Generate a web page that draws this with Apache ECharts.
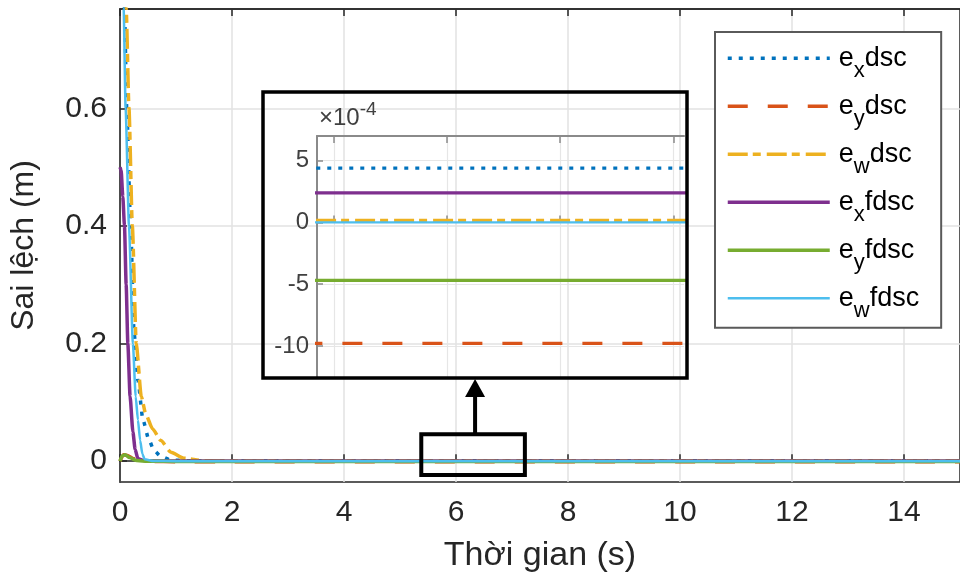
<!DOCTYPE html>
<html><head><meta charset="utf-8">
<script src="https://cdn.jsdelivr.net/npm/echarts@6/dist/echarts.min.js"></script>
<style>html,body{margin:0;padding:0;background:#fff}#c{width:960px;height:578px}</style>
</head><body><div id="c"></div>
<script>
// ---- data ----
const seriesNames = ['exdsc', 'eydsc', 'ewdsc', 'exfdsc', 'eyfdsc', 'ewfdsc'];
const subscripts = ['x', 'y', 'w', 'x', 'y', 'w'];
const suffixes = ['dsc', 'dsc', 'dsc', 'fdsc', 'fdsc', 'fdsc'];
const xTicks = [0, 2, 4, 6, 8, 10, 12, 14];
const yTicks = [0, 0.2, 0.4, 0.6];
const insetXTicks = [5.5, 6, 6.5, 7];
const insetYTicks = [-10e-4, -5e-4, 0, 5e-4];

const exDsc = [[0,1.0],[0.08,0.77],[0.12,0.6],[0.19,0.4],[0.25,0.22],[0.32,0.137],[0.41,0.07],[0.52,0.035],[0.61,0.018],[0.73,0.008],[0.9,0.002],[1.2,0.0006],[2,0.00044],[15,0.00044]];
const eyDsc = [[0,0],[0.06,0.011],[0.12,0.01],[0.25,0.004],[0.4,0.0008],[0.6,-0.0005],[1,-0.00095],[2,-0.00098],[15,-0.00098]];
const ewDsc = [[0,1.0],[0.11,0.77],[0.16,0.6],[0.22,0.4],[0.29,0.2],[0.38,0.11],[0.46,0.08],[0.58,0.055],[0.73,0.035],[0.91,0.015],[1.14,0.005],[1.5,0.0008],[2.2,0.00002],[15,0.00001]];
const exFdsc = [[0,0.5],[0.02,0.495],[0.05,0.45],[0.08,0.4],[0.11,0.3],[0.14,0.2],[0.18,0.11],[0.23,0.05],[0.27,0.02],[0.32,0.004],[0.45,0.0005],[1,0.00024],[15,0.00024]];
const eyFdsc = [[0,0],[0.04,0.009],[0.09,0.011],[0.17,0.006],[0.3,0.001],[0.5,-0.0003],[1,-0.00047],[15,-0.00047]];
const ewFdsc = [[0,1.0],[0.065,0.77],[0.1,0.6],[0.16,0.4],[0.23,0.2],[0.28,0.11],[0.32,0.07],[0.36,0.035],[0.4,0.012],[0.44,0.003],[0.6,0.0002],[1,0],[15,0]];
const allData = [exDsc, eyDsc, ewDsc, exFdsc, eyFdsc, ewFdsc];

// zoomed region shown in the inset (data units of main axes)
const zoomRegion = { x0: 5.38, x1: 7.23, y0: -0.0237, y1: 0.0456 };

// ---- styles ----
const colors = ['#0072BD', '#D95319', '#EDB120', '#7E2F8E', '#77AC30', '#4DBEEE'];
const dashes = [[4, 7], [20, 20], [20, 5, 8, 6], 'solid', 'solid', 'solid'];
const widths = [3.5, 3.5, 3.5, 3.5, 3.5, 2.5];
const FONT = 'Liberation Sans, Arial, sans-serif';
const AX = '#262626';

const chart = echarts.init(document.getElementById('c'));

const series = [];
allData.forEach((d, i) => {
  series.push({
    name: seriesNames[i], type: 'line', data: d, xAxisIndex: 0, yAxisIndex: 0,
    symbol: 'none', smooth: 0.2, smoothMonotone: 'x', clip: true,
    lineStyle: { color: colors[i], width: widths[i], type: dashes[i], cap: 'butt' },
    itemStyle: { color: colors[i] }, z: 3
  });
});
allData.forEach((d, i) => {
  series.push({
    name: seriesNames[i], type: 'line', data: d, xAxisIndex: 2, yAxisIndex: 1,
    symbol: 'none', clip: true,
    lineStyle: { color: colors[i], width: widths[i] - 0.3, type: dashes[i], cap: 'butt' },
    itemStyle: { color: colors[i] }, z: 3
  });
});

const option = {
  animation: false,
  backgroundColor: '#fff',
  textStyle: { fontFamily: FONT },
  grid: [
    { left: 117, top: 9, width: 850, height: 476, show: true, borderColor: AX, borderWidth: 1.5, backgroundColor: 'transparent' },
    { left: 317, top: 136, width: 367, height: 242, show: false }
  ],
  xAxis: [
    { type: 'value', gridIndex: 0, min: 0, max: 15, position: 'bottom',
      name: 'Thời gian (s)', nameLocation: 'middle', nameGap: 57,
      nameTextStyle: { fontSize: 34, color: AX, fontFamily: FONT },
      axisLine: { show: true, lineStyle: { color: AX, width: 1.5 } },
      axisTick: { show: true, inside: true, length: 7, customValues: xTicks, lineStyle: { color: AX, width: 1.5 } },
      axisLabel: { customValues: xTicks, fontSize: 30, color: AX, margin: 16, fontFamily: FONT },
      splitLine: { show: true, lineStyle: { color: '#e2e2e2', width: 1.5 } } },
    { type: 'value', gridIndex: 0, min: 0, max: 15, position: 'top',
      axisLine: { show: true, lineStyle: { color: AX, width: 1.5 } },
      axisTick: { show: true, inside: true, length: 7, customValues: xTicks, lineStyle: { color: AX, width: 1.5 } },
      axisLabel: { show: false }, splitLine: { show: false } },
    { type: 'value', gridIndex: 1, min: 5.425, max: 7.047, position: 'bottom',
      axisLine: { show: false },
      axisTick: { show: true, inside: true, length: 7, customValues: insetXTicks, lineStyle: { color: '#8a8a8a', width: 1.5 } },
      axisLabel: { show: false },
      splitLine: { show: true, lineStyle: { color: '#e6e6e6', width: 1.2 } } },
    { type: 'value', gridIndex: 1, min: 5.425, max: 7.047, position: 'top',
      axisLine: { show: true, lineStyle: { color: '#8a8a8a', width: 2 } },
      axisTick: { show: true, inside: true, length: 7, customValues: insetXTicks, lineStyle: { color: '#8a8a8a', width: 1.5 } },
      axisLabel: { show: false }, splitLine: { show: false } }
  ],
  yAxis: [
    { type: 'value', gridIndex: 0, min: -0.0355, max: 0.769,
      name: 'Sai lệch (m)', nameLocation: 'middle', nameGap: 80,
      nameTextStyle: { fontSize: 32, color: AX, fontFamily: FONT },
      axisLine: { show: true, lineStyle: { color: AX, width: 1.5 } },
      axisTick: { show: true, inside: true, length: 7, customValues: yTicks, lineStyle: { color: AX, width: 1.5 } },
      axisLabel: { customValues: yTicks, fontSize: 30, color: AX, margin: 13, fontFamily: FONT,
                   formatter: v => String(Math.round(v * 10) / 10) },
      splitLine: { show: true, lineStyle: { color: '#e2e2e2', width: 1.5 } } },
    { type: 'value', gridIndex: 1, min: -12.6e-4, max: 7.0e-4,
      axisLine: { show: true, lineStyle: { color: '#8a8a8a', width: 2 } },
      axisTick: { show: true, inside: true, length: 6, customValues: insetYTicks, lineStyle: { color: '#8a8a8a', width: 1.5 } },
      axisLabel: { customValues: insetYTicks, fontSize: 24, color: '#404040', margin: 8, fontFamily: FONT,
                   formatter: v => String(Math.round(v * 1e4)) },
      splitLine: { show: true, lineStyle: { color: '#e6e6e6', width: 1.2 } } }
  ],
  legend: {
    orient: 'vertical', left: 715, top: 32,
    padding: [11, 22, 6, 11],
    itemWidth: 102, itemHeight: 38, itemGap: 9.3,
    backgroundColor: '#fff', borderColor: '#5a5a5a', borderWidth: 2, borderRadius: 0,
    data: seriesNames,
    itemStyle: { opacity: 0 },
    lineStyle: { width: 'inherit', type: 'inherit' },
    formatter: name => {
      const i = seriesNames.indexOf(name);
      return '{f|e}{s|' + subscripts[i] + '}{m|' + suffixes[i] + '}';
    },
    textStyle: {
      fontFamily: FONT, color: '#000',
      rich: {
        f: { fontSize: 27, lineHeight: 38, verticalAlign: 'middle', fontFamily: FONT, color: '#000', padding: [0, 0, 0, 4] },
        m: { fontSize: 27, lineHeight: 38, verticalAlign: 'middle', fontFamily: FONT, color: '#000' },
        s: { fontSize: 22, verticalAlign: 'top', padding: [25, 0, 0, 0], fontFamily: FONT, color: '#000' }
      }
    }
  },
  series: series
};
chart.setOption(option);

// ---- annotations: inset frame, zoom box, arrow ----
const pA = chart.convertToPixel({ xAxisIndex: 0, yAxisIndex: 0 }, [zoomRegion.x0, zoomRegion.y1]);
const pB = chart.convertToPixel({ xAxisIndex: 0, yAxisIndex: 0 }, [zoomRegion.x1, zoomRegion.y0]);
const frame = { x: 263, y: 92, w: 424, h: 286 };
const ax = (pA[0] + pB[0]) / 2 + 2;
chart.setOption({
  graphic: [
    { type: 'rect', shape: { x: frame.x, y: frame.y, width: frame.w, height: frame.h },
      style: { fill: null, stroke: '#000', lineWidth: 3.5 }, z: 50 },
    { type: 'rect', shape: { x: pA[0], y: pA[1], width: pB[0] - pA[0], height: pB[1] - pA[1] },
      style: { fill: null, stroke: '#000', lineWidth: 4 }, z: 50 },
    { type: 'line', shape: { x1: ax, y1: pA[1], x2: ax, y2: frame.y + frame.h + 16 },
      style: { stroke: '#000', lineWidth: 4 }, z: 50 },
    { type: 'polygon', shape: { points: [[ax - 10, frame.y + frame.h + 19], [ax + 10, frame.y + frame.h + 19], [ax, frame.y + frame.h + 1]] },
      style: { fill: '#000' }, z: 50 },
    { type: 'text', x: 319, y: 100, z: 50,
      style: { text: '{a|×10}{b|-4}', fontFamily: FONT,
        rich: { a: { fontSize: 24, fill: '#404040', verticalAlign: 'bottom', lineHeight: 30, fontFamily: FONT },
                b: { fontSize: 19, fill: '#404040', verticalAlign: 'top', lineHeight: 22, fontFamily: FONT } } } }
  ]
});
</script>
</body></html>
